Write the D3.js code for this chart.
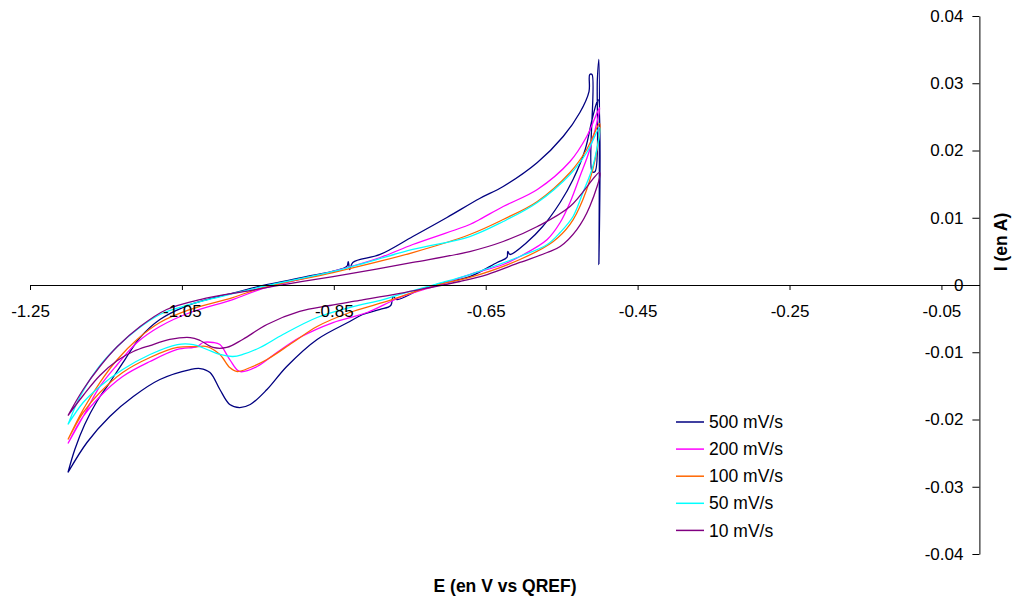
<!DOCTYPE html>
<html>
<head>
<meta charset="utf-8">
<script src="https://cdn.jsdelivr.net/npm/d3@7"></script>
<style>
  html, body { margin: 0; padding: 0; background: #fff; }
  svg { display: block; font-family: "Liberation Sans", Arial, sans-serif; }
</style>
</head>
<body>
<svg id="chart" width="1016" height="596"></svg>
<script>
// ---- Data (E in V vs QREF, I in A) ----
const seriesNames = ["500 mV/s", "200 mV/s", "100 mV/s", "50 mV/s", "10 mV/s"];
const seriesColors = ["#000080", "#FF00FF", "#FF6600", "#00FFFF", "#800080"];

const cv500 = [
  [-1.200,-0.02788],[-1.191,-0.02446],[-1.178,-0.02074],[-1.162,-0.01732],[-1.145,-0.01450],
  [-1.125,-0.01108],[-1.105,-0.00781],[-1.079,-0.00513],[-1.049,-0.00335],[-1.017,-0.00216],
  [-0.980,-0.00112],[-0.943,-0.00007],[-0.891,0.00112],[-0.833,0.00275],[-0.831,0.00349],
  [-0.829,0.00230],[-0.825,0.00335],[-0.789,0.00454],[-0.746,0.00721],[-0.701,0.01004],
  [-0.658,0.01286],[-0.627,0.01465],[-0.582,0.01822],[-0.548,0.02208],[-0.526,0.02565],
  [-0.514,0.02877],[-0.513,0.03130],[-0.510,0.03130],[-0.510,0.01688],[-0.506,0.01688],
  [-0.503,0.03056],[-0.501,0.03353],[-0.501,0.00305],[-0.502,0.02758],[-0.509,0.02506],
  [-0.519,0.02015],[-0.535,0.01569],[-0.552,0.01227],[-0.575,0.00870],[-0.596,0.00632],
  [-0.618,0.00454],[-0.621,0.00498],[-0.622,0.00409],[-0.635,0.00335],[-0.671,0.00126],
  [-0.710,0.00022],[-0.736,-0.00067],[-0.767,-0.00216],[-0.772,-0.00171],[-0.775,-0.00305],
  [-0.789,-0.00364],[-0.812,-0.00439],[-0.829,-0.00543],[-0.872,-0.00810],[-0.912,-0.01212],
  [-0.938,-0.01554],[-0.960,-0.01777],[-0.974,-0.01822],[-0.987,-0.01777],[-1.000,-0.01554],
  [-1.013,-0.01301],[-1.026,-0.01242],[-1.039,-0.01257],[-1.079,-0.01405],[-1.114,-0.01658],
  [-1.145,-0.01955],[-1.175,-0.02342],[-1.200,-0.02788]
];

const cv200 = [
  [-1.200,-0.02357],[-1.180,-0.01955],[-1.158,-0.01509],[-1.135,-0.01182],[-1.109,-0.00855],
  [-1.079,-0.00617],[-1.039,-0.00409],[-0.983,-0.00216],[-0.943,-0.00052],[-0.851,0.00201],
  [-0.789,0.00409],[-0.746,0.00602],[-0.671,0.00900],[-0.658,0.00974],[-0.627,0.01167],
  [-0.582,0.01420],[-0.539,0.01836],[-0.517,0.02208],[-0.500,0.02639],
  [-0.513,0.02015],[-0.526,0.01613],[-0.539,0.01227],[-0.552,0.00929],[-0.569,0.00677],
  [-0.605,0.00424],[-0.627,0.00305],[-0.671,0.00156],[-0.710,0.00007],[-0.763,-0.00186],
  [-0.806,-0.00409],[-0.851,-0.00558],[-0.895,-0.00781],[-0.925,-0.01004],[-0.951,-0.01212],
  [-0.974,-0.01286],[-0.987,-0.01108],[-1.000,-0.00885],[-1.009,-0.00855],[-1.022,-0.00855],
  [-1.030,-0.00915],[-1.056,-0.00959],[-1.092,-0.01138],[-1.128,-0.01361],[-1.158,-0.01658],
  [-1.180,-0.01955],[-1.200,-0.02357]
];

const cv100 = [
  [-1.200,-0.02297],[-1.180,-0.01851],[-1.158,-0.01450],[-1.135,-0.01108],[-1.109,-0.00810],
  [-1.079,-0.00558],[-1.039,-0.00364],[-0.983,-0.00186],[-0.943,-0.00037],[-0.851,0.00186],
  [-0.746,0.00483],[-0.671,0.00751],[-0.627,0.00974],[-0.582,0.01242],[-0.539,0.01673],
  [-0.517,0.02015],[-0.500,0.02402],
  [-0.506,0.01866],[-0.522,0.01271],[-0.539,0.00900],[-0.561,0.00647],[-0.605,0.00379],
  [-0.671,0.00112],[-0.717,-0.00007],[-0.785,-0.00260],[-0.829,-0.00409],[-0.872,-0.00617],
  [-0.904,-0.00855],[-0.938,-0.01108],[-0.960,-0.01227],[-0.977,-0.01286],[-0.987,-0.01227],
  [-1.000,-0.01033],[-1.017,-0.00915],[-1.030,-0.00915],[-1.056,-0.00929],[-1.092,-0.01078],
  [-1.128,-0.01301],[-1.158,-0.01599],[-1.180,-0.01896],[-1.200,-0.02297]
];

const cv50 = [
  [-1.200,-0.02074],[-1.184,-0.01658],[-1.162,-0.01257],[-1.135,-0.00915],[-1.109,-0.00662],
  [-1.079,-0.00439],[-1.049,-0.00320],[-1.004,-0.00186],[-0.943,-0.00022],[-0.851,0.00201],
  [-0.746,0.00528],[-0.671,0.00721],[-0.627,0.00944],[-0.582,0.01227],[-0.539,0.01643],
  [-0.517,0.01970],[-0.500,0.02342],
  [-0.509,0.01762],[-0.522,0.01375],[-0.535,0.01019],[-0.552,0.00781],[-0.569,0.00602],
  [-0.605,0.00424],[-0.671,0.00156],[-0.717,0.00007],[-0.763,-0.00141],[-0.785,-0.00216],
  [-0.829,-0.00335],[-0.872,-0.00483],[-0.917,-0.00736],[-0.947,-0.00929],[-0.970,-0.01033],
  [-0.983,-0.01063],[-1.000,-0.01033],[-1.017,-0.00959],[-1.035,-0.00885],[-1.056,-0.00885],
  [-1.092,-0.01033],[-1.128,-0.01257],[-1.158,-0.01509],[-1.180,-0.01747],[-1.200,-0.02074]
];

const cv10 = [
  [-1.200,-0.01941],[-1.180,-0.01554],[-1.158,-0.01212],[-1.135,-0.00915],[-1.105,-0.00617],
  [-1.070,-0.00364],[-1.026,-0.00216],[-0.960,-0.00082],[-0.908,0.00022],[-0.851,0.00126],
  [-0.746,0.00335],[-0.671,0.00498],[-0.627,0.00647],[-0.582,0.00870],[-0.539,0.01167],
  [-0.500,0.01673],
  [-0.513,0.01167],[-0.530,0.00825],[-0.552,0.00573],[-0.569,0.00483],[-0.605,0.00335],
  [-0.648,0.00156],[-0.684,0.00052],[-0.723,-0.00037],[-0.763,-0.00126],[-0.816,-0.00230],
  [-0.855,-0.00305],[-0.895,-0.00394],[-0.938,-0.00587],[-0.970,-0.00810],[-0.991,-0.00929],
  [-1.009,-0.00929],[-1.026,-0.00825],[-1.039,-0.00781],[-1.066,-0.00810],[-1.092,-0.00900],
  [-1.114,-0.00989],[-1.135,-0.01123],[-1.158,-0.01346],[-1.180,-0.01643],[-1.200,-0.01941]
];

const seriesData = [cv500, cv200, cv100, cv50, cv10];
const xTicks = [-1.25, -1.05, -0.85, -0.65, -0.45, -0.25, -0.05];
const yTicks = [-0.04, -0.03, -0.02, -0.01, 0, 0.01, 0.02, 0.03, 0.04];
const xTitle = "E (en V vs QREF)";
const yTitle = "I (en A)";

// ---- Layout ----
const svg = d3.select("#chart");
const x = d3.scaleLinear().domain([-1.25, 0]).range([30, 979.4]);
const y = d3.scaleLinear().domain([-0.04, 0.04]).range([554, 16]);
const tickFont = 17;
const textFont = 17.5;

// curves
const line = d3.line()
  .x(d => x(d[0])).y(d => y(d[1]))
  .curve(d3.curveCatmullRom.alpha(0.5));
svg.append("g").selectAll("path")
  .data(seriesData)
  .join("path")
  .attr("d", d => line(d))
  .attr("fill", "none")
  .attr("stroke", (d, i) => seriesColors[i])
  .attr("stroke-width", 1.3)
  .attr("stroke-linejoin", "round");

// x axis (at I = 0)
const xAxis = svg.append("g")
  .attr("transform", `translate(0,${y(0)})`)
  .call(d3.axisBottom(x).tickValues(xTicks).tickSize(5).tickSizeOuter(0)
        .tickFormat(d => String(d)));
xAxis.select(".domain").attr("stroke", "#000");
xAxis.selectAll(".tick line").attr("stroke", "#000");
xAxis.selectAll(".tick text")
  .attr("y", 20).attr("dy", "0.71em")
  .attr("font-size", tickFont).attr("font-family", "Liberation Sans, Arial, sans-serif")
  .attr("fill", "#000");

// y axis (at E = 0)
const yAxis = svg.append("g")
  .attr("transform", `translate(${x(0)},0)`)
  .call(d3.axisLeft(y).tickValues(yTicks).tickSize(7).tickSizeOuter(0).tickPadding(9)
        .tickFormat(d => String(d)));
yAxis.select(".domain").attr("stroke", "#000");
yAxis.selectAll(".tick line").attr("stroke", "#000");
yAxis.selectAll(".tick text")
  .attr("font-size", tickFont).attr("font-family", "Liberation Sans, Arial, sans-serif")
  .attr("fill", "#000");

// titles
svg.append("text")
  .attr("x", 505).attr("y", 592)
  .attr("text-anchor", "middle")
  .attr("font-size", textFont).attr("font-weight", "bold")
  .text(xTitle);
svg.append("text")
  .attr("transform", "translate(1007,242) rotate(-90)")
  .attr("text-anchor", "middle")
  .attr("font-size", textFont).attr("font-weight", "bold")
  .text(yTitle);

// legend
const legend = svg.append("g");
const legY0 = 422, legStep = 27.1;
seriesNames.forEach((name, i) => {
  const gy = legY0 + i * legStep;
  legend.append("line")
    .attr("x1", 676).attr("x2", 704).attr("y1", gy).attr("y2", gy)
    .attr("stroke", seriesColors[i]).attr("stroke-width", 1.5);
  legend.append("text")
    .attr("x", 709).attr("y", gy).attr("dy", "0.35em")
    .attr("font-size", textFont)
    .text(name);
});
</script>
</body>
</html>
